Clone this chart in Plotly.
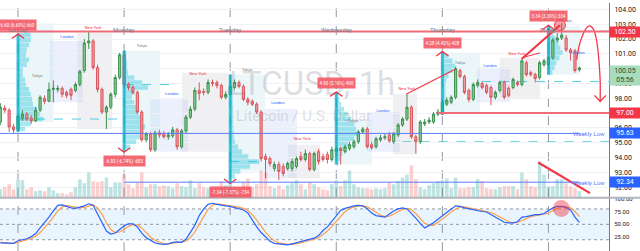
import plotly.graph_objects as go

# ---------------- data ----------------
opens = [
    96.40, 97.33, 97.20, 96.07, 95.87, 96.67, 96.93, 96.67, 96.47, 97.20, 98.00, 97.80,
    98.60, 98.60, 98.67, 98.40, 98.60, 98.53, 98.93, 99.87, 101.73, 101.87, 100.07, 98.60,
    97.07, 97.40, 98.27, 99.40, 100.93, 98.93, 98.73, 98.40, 97.07, 95.20, 95.60, 94.53,
    95.67, 95.60, 95.40, 95.47, 95.87, 94.73, 95.80, 96.73, 97.27, 98.53, 98.47, 98.40,
    99.07, 99.07, 98.87, 98.07, 98.27, 98.73, 99.07, 98.80, 97.93, 97.80, 97.60, 97.07,
    94.07, 93.93, 93.27, 93.53, 93.40, 93.27, 93.27, 93.40, 94.07, 93.87, 94.27, 93.20,
    94.40, 94.07, 94.20, 93.87, 94.40, 94.60, 94.40, 94.60, 94.73, 95.07, 95.73, 95.93,
    94.87, 94.73, 95.20, 95.33, 95.53, 95.07, 95.53, 96.20, 96.60, 97.40, 95.40, 95.07,
    96.27, 96.40, 96.40, 96.93, 97.07, 97.60, 97.73, 98.07, 99.87, 99.47, 98.53, 97.93,
    98.87, 99.00, 98.87, 98.73, 98.07, 98.53, 99.07, 98.67, 98.73, 99.07, 98.93, 100.40,
    99.73, 99.60, 99.40, 100.27, 100.27, 100.73, 101.93, 102.07, 102.07, 101.27, 101.20, 99.93,
]
highs = [
    97.67, 97.53, 97.33, 96.27, 96.93, 97.20, 97.07, 96.87, 97.40, 98.20, 98.20, 99.07,
    99.20, 98.87, 98.80, 98.53, 98.73, 99.07, 99.93, 102.00, 102.47, 102.00, 100.27, 98.73,
    97.53, 98.40, 99.60, 101.07, 101.20, 99.07, 98.87, 98.53, 97.20, 95.73, 95.73, 95.80,
    95.87, 95.80, 95.73, 96.07, 96.00, 95.93, 96.87, 97.47, 98.73, 99.07, 98.67, 99.27,
    99.27, 99.20, 99.00, 98.47, 99.60, 99.27, 99.20, 98.93, 98.07, 97.93, 97.73, 97.20,
    94.27, 94.07, 93.73, 93.73, 93.60, 93.73, 93.93, 94.07, 94.40, 94.53, 94.40, 94.40,
    94.60, 94.27, 94.40, 94.73, 94.80, 94.73, 94.87, 95.07, 95.20, 95.87, 96.07, 96.07,
    95.07, 95.40, 95.53, 95.60, 95.73, 95.73, 96.33, 96.73, 98.27, 97.53, 95.53, 96.53,
    96.60, 96.73, 97.07, 97.27, 97.87, 98.07, 98.20, 100.13, 100.00, 99.60, 98.67, 99.07,
    99.27, 99.13, 99.00, 98.87, 98.53, 99.20, 99.20, 98.80, 99.40, 99.20, 100.73, 100.53,
    99.87, 99.73, 100.53, 100.67, 100.87, 102.07, 102.40, 103.07, 102.27, 101.40, 101.33, 100.13,
]
lows = [
    96.20, 97.00, 95.73, 95.67, 95.73, 96.47, 96.47, 96.27, 96.40, 97.07, 97.60, 97.73,
    97.73, 98.40, 98.07, 98.00, 97.87, 98.40, 98.80, 99.73, 101.33, 99.93, 98.40, 96.93,
    95.93, 97.27, 98.07, 99.27, 98.80, 98.53, 98.27, 96.93, 95.07, 95.07, 94.40, 94.40,
    95.33, 95.27, 95.20, 95.33, 94.53, 94.60, 95.67, 96.60, 97.13, 97.87, 98.20, 98.27,
    98.80, 98.67, 97.93, 97.93, 98.13, 98.60, 98.67, 97.80, 97.53, 97.47, 96.93, 93.73,
    92.60, 93.40, 93.07, 92.47, 92.73, 93.13, 93.07, 93.27, 93.73, 93.73, 93.07, 93.07,
    93.53, 93.73, 93.60, 93.73, 94.07, 93.53, 94.27, 94.47, 94.60, 94.93, 95.60, 94.60,
    94.53, 94.60, 95.07, 95.20, 95.00, 94.93, 95.40, 96.07, 96.47, 95.27, 94.27, 94.93,
    96.13, 96.27, 96.27, 96.80, 96.87, 97.47, 97.60, 97.93, 99.33, 98.27, 97.73, 97.80,
    98.73, 98.60, 98.27, 97.53, 97.93, 98.40, 97.93, 98.07, 98.60, 98.80, 98.80, 99.47,
    99.47, 99.07, 99.27, 100.13, 100.13, 100.60, 101.80, 101.93, 101.13, 100.53, 99.73, 99.80,
]
closes = [
    97.40, 97.20, 96.07, 95.87, 96.80, 96.93, 96.60, 96.47, 97.20, 98.07, 97.80, 98.60,
    98.67, 98.67, 98.27, 98.20, 98.20, 98.93, 99.80, 101.73, 101.87, 100.07, 98.60, 97.07,
    97.40, 98.27, 99.40, 100.93, 98.93, 98.73, 98.40, 97.07, 95.20, 95.60, 94.53, 95.67,
    95.53, 95.40, 95.53, 95.87, 94.73, 95.80, 96.73, 97.27, 98.53, 98.33, 98.40, 99.07,
    99.00, 98.87, 98.07, 98.27, 98.80, 99.07, 98.80, 97.93, 97.73, 97.60, 97.07, 93.93,
    93.87, 93.60, 93.53, 93.07, 92.93, 93.60, 93.73, 93.93, 93.87, 94.27, 93.20, 94.27,
    93.73, 93.87, 93.87, 94.53, 94.60, 94.47, 94.73, 94.87, 95.07, 95.73, 95.93, 94.73,
    94.67, 95.27, 95.33, 95.40, 95.13, 95.60, 96.20, 96.60, 97.40, 95.40, 95.07, 96.40,
    96.40, 96.53, 96.93, 97.07, 97.73, 97.87, 98.07, 100.00, 99.47, 98.40, 97.93, 98.93,
    99.07, 98.73, 98.40, 98.07, 98.40, 99.07, 98.07, 98.20, 99.27, 98.93, 100.53, 99.60,
    99.60, 99.33, 100.40, 100.53, 100.73, 101.93, 102.07, 102.27, 101.27, 101.07, 99.87, 100.05,
]
volumes = [
    8, 10, 13, 8, 18, 17, 8, 10, 6, 7, 6, 10,
    7, 4, 4, 3, 5, 10, 18, 14, 25, 16, 15, 16,
    20, 10, 15, 15, 23, 13, 9, 15, 25, 10, 13, 13,
    11, 12, 11, 9, 14, 11, 10, 17, 9, 14, 10, 9,
    10, 11, 16, 12, 14, 10, 9, 15, 19, 10, 13, 27,
    25, 11, 9, 12, 8, 12, 14, 17, 13, 8, 15, 13,
    10, 8, 7, 13, 17, 11, 17, 27, 13, 10, 9, 9,
    8, 9, 8, 9, 15, 13, 16, 20, 23, 32, 18, 10,
    8, 12, 14, 16, 17, 19, 9, 20, 9, 9, 10, 10,
    18, 16, 9, 8, 8, 10, 11, 11, 11, 8, 25, 18,
    11, 10, 36, 23, 11, 11, 18, 18, 14, 11, 9, 6,
]
stoch_k = [
    14, 14, 13, 13, 18, 20, 22, 26, 32, 43, 53, 64,
    76, 87, 88, 85, 82, 81, 83, 86, 90, 87, 70, 52,
    37, 31, 33, 40, 47, 51, 51, 45, 33, 24, 19, 14,
    12, 11, 12, 15, 16, 15, 21, 35, 48, 67, 80, 89,
    91, 89, 87, 86, 85, 83, 81, 78, 72, 58, 45, 34,
    25, 17, 13, 12, 11, 10, 12, 14, 16, 18, 21, 23,
    28, 38, 45, 55, 67, 77, 81, 84, 86, 87, 86, 80,
    72, 67, 65, 64, 70, 76, 80, 82, 80, 72, 62, 52,
    43, 48, 53, 60, 67, 74, 80, 86, 85, 82, 80, 78,
    76, 75, 74, 69, 64, 58, 54, 53, 53, 55, 64, 65,
    67, 69, 69, 71, 77, 82, 85, 85, 83, 78, 64, 54,
]
stoch_d = [
    15, 14, 14, 13, 15, 17, 20, 23, 27, 34, 43, 53,
    64, 76, 84, 87, 85, 83, 82, 83, 86, 88, 82, 70,
    53, 40, 34, 35, 40, 46, 50, 49, 43, 34, 25, 19,
    15, 12, 12, 13, 14, 15, 17, 24, 35, 50, 65, 79,
    87, 90, 89, 87, 86, 85, 83, 81, 77, 69, 58, 46,
    35, 25, 18, 14, 12, 11, 11, 12, 14, 16, 18, 21,
    24, 30, 37, 46, 56, 66, 75, 81, 84, 86, 86, 84,
    79, 73, 68, 65, 66, 70, 75, 79, 81, 78, 71, 62,
    52, 48, 48, 54, 60, 67, 74, 80, 84, 84, 82, 80,
    78, 76, 75, 73, 69, 64, 59, 55, 53, 54, 57, 61,
    65, 67, 68, 70, 72, 77, 81, 84, 84, 82, 75, 65,
]

day_names = ["Sunday", "Monday", "Tuesday", "Wednesday", "Thursday", "Friday"]
day_index = [4, 28, 52, 76, 100, 124]

price_ticks = [92, 93, 94, 95, 96, 97, 98, 99, 100, 101, 102, 103, 104]
stoch_ticks = [25, 50, 75, 100]

level_top = 102.50
level_mid = 97.00
weekly_low_1 = 95.63
weekly_low_2 = 92.34
last_price = 100.05
last_time = "05:56"

# price-range measurements: bar index, start price, end price, label
range_index = [4, 28, 52, 76, 100, 124]
range_start = [95.73, 101.20, 99.60, 93.53, 96.87, 99.59]
range_end = [102.33, 94.37, 92.26, 98.43, 101.15, 102.93]
range_text = ["6.60 (6.69%) 660", "-6.83 (-6.74%) -683", "-7.34 (-7.37%) -734",
              "4.90 (5.16%) 490", "4.28 (4.42%) 428", "3.34 (3.39%) 334"]

# volume profiles (price bins, width in bars)
vp_a_price = [102.27, 101.93, 101.60, 101.27, 100.93, 100.60, 100.27, 99.93, 99.60, 99.27,
              98.93, 98.60, 98.27, 97.93, 97.60, 97.27, 96.93, 96.60, 96.27, 95.93]
vp_a_width = [2.9, 2.9, 2.5, 2.0, 1.8, 2.5, 2.0, 1.1, 1.1, 1.6,
              1.8, 2.5, 2.9, 3.2, 3.4, 4.3, 5.0, 5.7, 2.9, 1.6]
vp_b_price = [101.07, 100.73, 100.40, 100.07, 99.73, 99.40, 99.07, 98.73, 98.40, 98.07,
              97.73, 97.40, 97.07, 96.73, 96.40, 96.07, 95.73, 95.40, 95.07, 94.73]
vp_b_width = [0.5, 0.5, 0.7, 0.7, 0.9, 2.3, 4.1, 5.4, 2.3, 1.8,
              2.3, 2.7, 3.2, 3.8, 4.1, 4.8, 4.1, 3.6, 2.7, 1.4]
vp_c_price = [99.40, 99.07, 98.73, 98.40, 98.07, 97.73, 97.40, 97.07, 96.73, 96.40, 96.07,
              95.73, 95.40, 95.07, 94.73, 94.40, 94.07, 93.73, 93.40, 93.07, 92.73]
vp_c_width = [0.2, 0.3, 0.5, 0.5, 0.6, 0.6, 0.7, 0.7, 0.7, 0.7, 0.7,
              0.8, 0.9, 1.1, 1.8, 2.7, 4.1, 6.6, 4.5, 2.3, 1.1]
vp_d_price = [98.27, 97.93, 97.60, 97.27, 96.93, 96.60, 96.27, 95.93, 95.60, 95.27,
              94.93, 94.60, 94.27, 93.93, 93.60]
vp_d_width = [0.5, 0.7, 1.1, 1.8, 2.7, 3.4, 4.1, 4.5, 5.2, 4.1, 2.7, 2.0, 1.4, 0.9, 0.5]
vp_e_price = [100.87, 100.53, 100.20, 99.87, 99.53, 99.20, 98.87, 98.53, 98.20, 97.87, 97.53, 97.20]
vp_e_width = [1.4, 2.3, 2.9, 2.3, 1.4, 0.9, 0.7, 0.7, 0.7, 0.7, 0.5, 0.5]
vp_f_price = [102.73, 102.40, 102.07, 101.73, 101.40, 101.07, 100.73, 100.40, 100.07, 99.73]
vp_f_width = [0.7, 1.1, 1.6, 2.3, 2.7, 3.2, 2.5, 1.8, 1.4, 0.9]

# point of control levels: price, from bar, to bar
poc_price = [96.60, 98.93, 93.73, 95.07, 99.13, 102.53]
poc_from = [4, 28, 52, 91, 109, 132]
poc_to = [28, 40, 59, 137.7, 137.7, 137.7]

# trading sessions: name, from bar, to bar, high, low
sessions = [
    ("Tokyo", 4, 12, 103.07, 96.40), ("London", 11.2, 18.7, 101.87, 97.73), ("New York", 17.4, 25.3, 102.40, 95.93),
    ("Tokyo", 28, 36.1, 101.20, 95.73), ("London", 33.9, 42.5, 97.93, 94.40), ("New York", 41.1, 51.5, 99.73, 94.40),
    ("Tokyo", 52.2, 59.9, 99.60, 93.07), ("London", 59.9, 67.1, 97.27, 92.60), ("New York", 65.1, 72.3, 94.87, 92.60),
    ("Tokyo", 75.9, 84.1, 96.60, 93.53), ("London", 83, 90.4, 97.07, 94.40), ("New York", 88.8, 94.3, 98.27, 94.20),
    ("Tokyo", 100, 108.5, 101.07, 97.07), ("London", 107.8, 115.3, 100.07, 97.73), ("New York", 113, 122.1, 100.73, 97.93),
    ("Tokyo", 123.9, 131.2, 102.87, 99.60),
]
session_label_x = [8.3, 15.1, 21, 32, 38.8, 44.7, 55.8, 62.8, 68.3, 79.8, 86.6, 92, 104, 110.8, 116.9, 128, 130.7]
session_label_y = [99.53, 102.13, 102.73, 101.53, 98.27, 99.67, 99.93, 97.67, 95.27, 96.47, 97.13, 98.60,
                   100.40, 100.20, 101.00, 103.20, 101.07]
session_label_t = ["Tokyo", "London", "New York", "Tokyo", "London", "New York", "Tokyo", "London", "New York",
                   "Tokyo", "London", "New York", "Tokyo", "London", "New York", "Tokyo", "London"]

# drawings (bar index, price)
trend1_x, trend1_y = [91.8, 103.1], [98.27, 100.00]
trend2_x, trend2_y = [118, 126.6], [100.67, 102.93]
trend3_x, trend3_y = [118, 122.1], [100.73, 101.07]
curve_x = [130.4, 131.0, 131.8, 132.6, 133.4, 134.2, 134.9, 135.4, 135.7, 135.7]
curve_y = [100.60, 101.60, 102.30, 102.75, 102.89, 102.65, 101.90, 100.60, 99.20, 97.80]
arrowhead_x = [134.4, 135.7, 137.0]
arrowhead_y = [98.20, 97.78, 98.20]
vol_trend_x, vol_trend_y = [121.7, 133.4], [93.67, 91.60]
circle_x, circle_y = 126.6, 102.93
stoch_circle_x, stoch_circle_y = 126.9, 81

# ---------------- figure ----------------
N = len(closes)
xs = list(range(N))
X_RANGE = [-0.07, 137.7]
FONT = "Roboto"
RED = "#f23645"
BLUE = "#5b7cff"

fig = go.Figure()

vol_colors = ["rgba(38,166,154,0.30)" if c >= o else "rgba(239,83,80,0.28)" for o, c in zip(opens, closes)]
fig.add_trace(go.Bar(x=xs, y=volumes, marker=dict(color=vol_colors, line=dict(width=0)), width=0.8,
                     xaxis="x", yaxis="y", hoverinfo="skip"))

# watermark (behind candles)
fig.add_trace(go.Scatter(x=[70.5], y=[98.75], mode="text", text=["LTCUSD, 1h"],
                         textfont=dict(size=33, color="rgba(120,123,134,0.25)", family=FONT),
                         xaxis="x", yaxis="y3", hoverinfo="skip"))
fig.add_trace(go.Scatter(x=[68.6], y=[96.73], mode="text", text=["Litecoin / U.S. Dollar"],
                         textfont=dict(size=15, color="rgba(120,123,134,0.25)", family=FONT),
                         xaxis="x", yaxis="y3", hoverinfo="skip"))

# volume profiles
for start, pr, wd in [(4, vp_a_price, vp_a_width), (28, vp_b_price, vp_b_width), (52, vp_c_price, vp_c_width),
                      (76, vp_d_price, vp_d_width), (100, vp_e_price, vp_e_width), (124, vp_f_price, vp_f_width)]:
    fig.add_trace(go.Bar(orientation="h", y=pr, x=wd, base=start, width=0.31,
                         marker=dict(color="rgba(38,198,218,0.40)", line=dict(width=0)),
                         xaxis="x", yaxis="y3", hoverinfo="skip"))

# session labels
sess_colors = {"Tokyo": "#787b86", "London": "#2962ff", "New York": RED}
fig.add_trace(go.Scatter(x=session_label_x, y=session_label_y, mode="text", text=session_label_t,
                         textfont=dict(size=4, color=[sess_colors[t] for t in session_label_t], family=FONT),
                         xaxis="x", yaxis="y3", hoverinfo="skip"))

fig.add_trace(go.Candlestick(
    x=xs, open=opens, high=highs, low=lows, close=closes, xaxis="x", yaxis="y3",
    increasing=dict(line=dict(color="#3d8f4f", width=1), fillcolor="#86cf92"),
    decreasing=dict(line=dict(color="#d9575e", width=1), fillcolor="#f29a9d"),
    whiskerwidth=0, hoverinfo="skip"))

# measurement bands, chevrons
for i, s, e in zip(range_index, range_start, range_end):
    fig.add_trace(go.Scatter(x=[i, i], y=[s, e], mode="lines", line=dict(color="rgba(0,172,200,0.75)", width=3),
                             xaxis="x", yaxis="y3", hoverinfo="skip"))
    d = -0.3 if e > s else 0.3
    fig.add_trace(go.Scatter(x=[i - 1.4, i, i + 1.4], y=[e + d, e, e + d], mode="lines",
                             line=dict(color=RED, width=1.3), xaxis="x", yaxis="y3", hoverinfo="skip"))

# drawings
for tx, ty, w in [(trend1_x, trend1_y, 1.2), (trend2_x, trend2_y, 2.2), (trend3_x, trend3_y, 1.0),
                  (vol_trend_x, vol_trend_y, 2.2), (arrowhead_x, arrowhead_y, 1.3)]:
    fig.add_trace(go.Scatter(x=tx, y=ty, mode="lines", line=dict(color=RED, width=w),
                             xaxis="x", yaxis="y3", hoverinfo="skip"))
fig.add_trace(go.Scatter(x=curve_x, y=curve_y, mode="lines", line=dict(color=RED, width=1.3, shape="spline"),
                         xaxis="x", yaxis="y3", hoverinfo="skip"))
fig.add_trace(go.Scatter(x=[circle_x], y=[circle_y], mode="markers",
                         marker=dict(size=11, color="rgba(242,54,69,0.45)", line=dict(color=RED, width=1)),
                         xaxis="x", yaxis="y3", hoverinfo="skip"))

# stochastic RSI
fig.add_trace(go.Scatter(x=xs, y=stoch_d, mode="lines", line=dict(color="#ff9e4a", width=1.2),
                         xaxis="x2", yaxis="y2", hoverinfo="skip"))
fig.add_trace(go.Scatter(x=xs, y=stoch_k, mode="lines", line=dict(color="#2962ff", width=1.2),
                         xaxis="x2", yaxis="y2", hoverinfo="skip"))
fig.add_trace(go.Scatter(x=[stoch_circle_x], y=[stoch_circle_y], mode="markers",
                         marker=dict(size=17, color="rgba(242,54,69,0.45)", line=dict(width=0)),
                         xaxis="x2", yaxis="y2", hoverinfo="skip"))

shapes = []
# session boxes
sess_fill = {"Tokyo": "rgba(190,225,235,0.30)", "London": "rgba(190,205,245,0.30)", "New York": "rgba(205,205,215,0.30)"}
for name, a, b, hi, lo in sessions:
    shapes.append(dict(type="rect", xref="x", yref="y3", x0=a, x1=b, y0=lo, y1=hi,
                       fillcolor=sess_fill[name], line=dict(width=0), layer="below"))
# stoch band and guide lines
shapes.append(dict(type="rect", xref="paper", yref="y2", x0=0, x1=1, y0=20, y1=80,
                   fillcolor="rgba(33,150,243,0.10)", line=dict(width=0), layer="below"))
for lv in (20, 50, 80):
    shapes.append(dict(type="line", xref="paper", yref="y2", x0=0, x1=1, y0=lv, y1=lv,
                       line=dict(color="#9598a1", width=1, dash="dot"), layer="below"))
# day separators
for d in day_index:
    shapes.append(dict(type="line", xref="x", yref="paper", x0=d, x1=d, y0=0, y1=1,
                       line=dict(color="#9598a1", width=1, dash="dash"), layer="below"))
# horizontal levels
shapes.append(dict(type="line", xref="paper", yref="y3", x0=0, x1=1, y0=level_top, y1=level_top,
                   line=dict(color="#f26b78", width=2)))
shapes.append(dict(type="line", xref="x", yref="y3", x0=99, x1=X_RANGE[1], y0=level_mid, y1=level_mid,
                   line=dict(color="#f26b78", width=2)))
shapes.append(dict(type="line", xref="x", yref="y3", x0=X_RANGE[0], x1=131, y0=weekly_low_1, y1=weekly_low_1,
                   line=dict(color=BLUE, width=1)))
shapes.append(dict(type="line", xref="x", yref="y3", x0=28, x1=131, y0=weekly_low_2, y1=weekly_low_2,
                   line=dict(color=BLUE, width=1)))
for p, a, b in zip(poc_price, poc_from, poc_to):
    shapes.append(dict(type="line", xref="x", yref="y3", x0=a, x1=b, y0=p, y1=p,
                       line=dict(color="rgba(38,198,218,0.8)", width=1, dash="dash"), layer="below"))
# pane separator
shapes.append(dict(type="line", xref="paper", yref="paper", x0=0, x1=1.06, y0=0.2151, y1=0.2151,
                   line=dict(color="#b2b5be", width=2)))

annotations = []
for d, nm in zip(day_index, day_names):
    annotations.append(dict(x=d, y=102.62, xref="x", yref="y3", text=nm, showarrow=False,
                            font=dict(size=6, color="#787b86", family=FONT)))
for i, s, e, t in zip(range_index, range_start, range_end, range_text):
    up = e > s
    annotations.append(dict(x=i, y=e, xref="x", yref="y3", text=t, showarrow=False,
                            yshift=9 if up else -9, bgcolor="rgba(242,80,92,0.85)",
                            font=dict(size=4.5, color="white", family=FONT), borderpad=1.5))
for p in (weekly_low_1, weekly_low_2):
    annotations.append(dict(x=0.997, xref="paper", y=p, yref="y3", xanchor="right", text="Weekly Low",
                            showarrow=False, font=dict(size=6, color=BLUE, family=FONT)))


def axis_label(p, text, bg, fc="white", yanchor="middle"):
    return dict(x=1.0, xref="paper", xanchor="left", y=p, yref="y3", yanchor=yanchor, text=text,
                showarrow=False, bgcolor=bg, width=28, borderpad=1, align="center",
                font=dict(size=7, color=fc, family=FONT))


annotations.append(axis_label(level_top, f"{level_top:.2f}", RED))
annotations.append(axis_label(level_mid, f"{level_mid:.2f}", RED))
annotations.append(axis_label(weekly_low_1, f"{weekly_low_1:.2f}", "#2962ff"))
annotations.append(axis_label(weekly_low_2, f"{weekly_low_2:.2f}", "#2962ff"))
annotations.append(axis_label(last_price + 0.2, f"{last_price:.2f}<br>{last_time}", "#a8dcba", "#1f4f2e", "top"))

fig.update_layout(
    width=640, height=251, margin=dict(l=0, r=31, t=0, b=0),
    paper_bgcolor="white", plot_bgcolor="white", showlegend=False, barmode="overlay",
    xaxis=dict(domain=[0, 1], range=X_RANGE, showticklabels=False, showgrid=False, zeroline=False, anchor="y",
               rangeslider=dict(visible=False)),
    yaxis=dict(domain=[0.2171, 1], range=[0, 196.5], visible=False, fixedrange=True),
    yaxis3=dict(overlaying="y", side="right", range=[91.33, 104.43], tickvals=price_ticks,
                ticktext=[f"{v:.2f}" for v in price_ticks], tickfont=dict(size=7, color="#131722", family=FONT),
                showgrid=True, gridcolor="#f0f2f6", zeroline=False, showline=True, linecolor="#787b86",
                ticks="outside", ticklen=3, tickcolor="rgba(0,0,0,0)"),
    xaxis2=dict(domain=[0, 1], range=X_RANGE, anchor="y2", showticklabels=False, showgrid=False,
                zeroline=False, showline=True, linecolor="#9598a1"),
    yaxis2=dict(domain=[0, 0.2131], range=[-1.92, 100.96], side="right", tickvals=stoch_ticks,
                ticktext=[f"{v:.2f}" for v in stoch_ticks], tickfont=dict(size=6, color="#131722", family=FONT),
                showgrid=False, zeroline=False, showline=True, linecolor="#787b86",
                ticks="outside", ticklen=3, tickcolor="rgba(0,0,0,0)"),
    shapes=shapes, annotations=annotations,
)

fig.write_html("out.html")
